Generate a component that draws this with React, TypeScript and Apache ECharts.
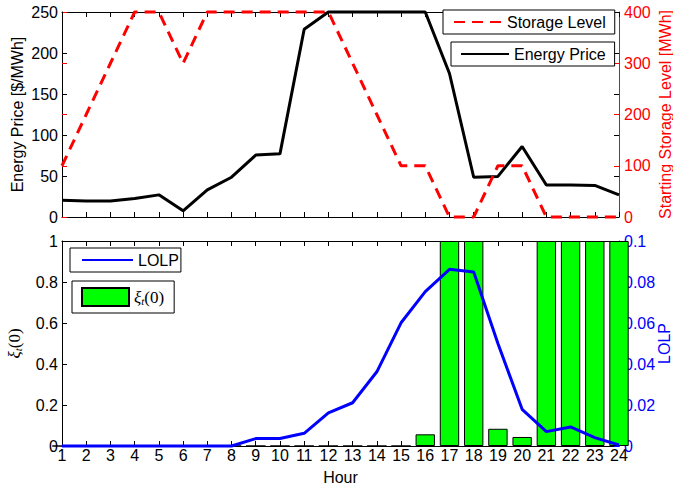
import React, { useEffect, useRef } from "react";
import * as echarts from "echarts";

const hours = [1, 2, 3, 4, 5, 6, 7, 8, 9, 10, 11, 12, 13, 14, 15, 16, 17, 18, 19, 20, 21, 22, 23, 24];
const energyPrice = [20.5, 19.5, 19.5, 22.5, 27, 7.5, 33, 48.5, 75.5, 77, 229, 250, 250, 250, 250, 250, 175, 48.5, 49.5, 86, 39, 39, 38.5, 27];
const storageLevel = [100, 200, 300, 400, 400, 300, 400, 400, 400, 400, 400, 400, 300, 200, 100, 100, 0, 0, 100, 100, 0, 0, 0, 0];
const xi = [0, 0, 0, 0, 0, 0, 0, 0, 0, 0, 0, 0, 0, 0, 0, 0.057, 1, 1, 0.084, 0.044, 1, 1, 1, 1];
const lolp = [0, 0, 0, 0, 0, 0, 0, 0, 0.0036, 0.0037, 0.0062, 0.0162, 0.0211, 0.0362, 0.0601, 0.0753, 0.0862, 0.0849, 0.0500, 0.0179, 0.0070, 0.0093, 0.0041, 0.0005];

const FONT = "'Liberation Sans', Arial, Helvetica, sans-serif";
const SERIF = "'Liberation Serif', 'DejaVu Serif', serif";
const RED = "#FF0000";
const BLUE = "#0000FF";
const GREEN = "#00FF00";

const xiRich = {
  a: { fontFamily: SERIF, fontStyle: "italic", fontSize: 17, color: "#000" },
  b: { fontFamily: SERIF, fontStyle: "italic", fontSize: 11, color: "#000", verticalAlign: "bottom", padding: [7, 0, 0, 0] },
  c: { fontFamily: SERIF, fontSize: 17, color: "#000" },
};

function xAxisBase(gridIndex: number, position: string, showLabel: boolean) {
  return {
    type: "value",
    gridIndex,
    position,
    min: 1,
    max: 24,
    interval: 1,
    splitLine: { show: false },
    axisLine: { show: true, onZero: false, lineStyle: { color: "#000", width: 1 } },
    axisTick: { show: true, inside: true, length: 5, lineStyle: { color: "#000" } },
    axisLabel: { show: showLabel, fontSize: 16, fontFamily: FONT, color: "#000", margin: 1 },
  };
}

function yAxisBase(gridIndex: number, position: string, min: number, max: number, interval: number, color: string, showLabel: boolean, showLine: boolean) {
  return {
    type: "value",
    gridIndex,
    position,
    min,
    max,
    interval,
    splitLine: { show: false },
    axisLine: { show: showLine, lineStyle: { color, width: 1 } },
    axisTick: { show: true, inside: true, length: 5, lineStyle: { color } },
    axisLabel: { show: showLabel, fontSize: 16, fontFamily: FONT, color, margin: position === "left" ? 4 : 5 },
  };
}

const lineLegendBase = {
  borderColor: "#000",
  borderWidth: 1,
  backgroundColor: "#fff",
  itemHeight: 14,
  selectedMode: false,
  itemStyle: { opacity: 0 },
  textStyle: { fontSize: 16, fontFamily: FONT, color: "#000" },
};

export default function App() {
  const ref = useRef<HTMLDivElement>(null);

  useEffect(() => {
    if (!ref.current) return;
    const chart = echarts.init(ref.current, undefined, { renderer: "svg" });

    const option = {
      animation: false,
      backgroundColor: "#fff",
      textStyle: { fontFamily: FONT },
      grid: [
        { left: 62, right: 54, top: 12, height: 205, containLabel: false, outerBoundsMode: "none" },
        { left: 62, right: 54, top: 241, height: 205, containLabel: false, outerBoundsMode: "none" },
      ],
      xAxis: [
        xAxisBase(0, "bottom", false),
        xAxisBase(0, "top", false),
        {
          ...xAxisBase(1, "bottom", true),
          name: "Hour",
          nameLocation: "middle",
          nameGap: 23,
          nameMoveOverlap: false,
          nameTextStyle: { fontSize: 16, fontFamily: FONT, color: "#000" },
        },
        xAxisBase(1, "top", false),
      ],
      yAxis: [
        {
          ...yAxisBase(0, "left", 0, 250, 50, "#000", true, true),
          name: "Energy Price [$/MWh]",
          nameLocation: "middle",
          nameGap: 37,
          nameRotate: 90,
          nameMoveOverlap: false,
          nameTextStyle: { fontSize: 16, fontFamily: FONT, color: "#000" },
        },
        {
          ...yAxisBase(0, "right", 0, 400, 100, RED, true, true),
          name: "Starting Storage Level [MWh]",
          nameLocation: "middle",
          nameGap: 38,
          nameRotate: 90,
          nameMoveOverlap: false,
          nameTextStyle: { fontSize: 16, fontFamily: FONT, color: RED },
        },
        yAxisBase(0, "right", 0, 250, 50, "#000", false, false),
        yAxisBase(0, "left", 0, 400, 100, RED, false, false),
        {
          ...yAxisBase(1, "left", 0, 1, 0.2, "#000", true, true),
          name: "{a|ξ}{b|t}{c|(0)}",
          nameLocation: "middle",
          nameGap: 39,
          nameRotate: 90,
          nameMoveOverlap: false,
          nameTextStyle: { rich: xiRich },
        },
        {
          ...yAxisBase(1, "right", 0, 0.1, 0.02, BLUE, true, true),
          name: "LOLP",
          nameLocation: "middle",
          nameGap: 37,
          nameRotate: 90,
          nameMoveOverlap: false,
          nameTextStyle: { fontSize: 16, fontFamily: FONT, color: BLUE },
        },
      ],
      legend: [
        {
          ...lineLegendBase,
          data: ["Storage Level"],
          left: 443,
          top: 10,
          padding: [4, 9, 4, 10],
          itemWidth: 48,
        },
        {
          ...lineLegendBase,
          data: ["Energy Price"],
          left: 451,
          top: 42,
          padding: [4, 9, 4, 9],
          itemWidth: 48,
        },
        {
          ...lineLegendBase,
          data: ["LOLP"],
          left: 70,
          top: 248,
          padding: [4, 2, 4, 11],
          itemWidth: 51,
        },
        {
          data: ["ξt(0)"],
          left: 72,
          top: 281,
          padding: [6, 10, 6, 9],
          borderColor: "#000",
          borderWidth: 1,
          backgroundColor: "#fff",
          itemWidth: 47,
          itemHeight: 18,
          icon: "rect",
          selectedMode: false,
          formatter: () => "{a|ξ}{b|t}{c|(0)}",
          textStyle: { rich: xiRich },
        },
      ],
      series: [
        {
          name: "ξt(0)",
          type: "bar",
          xAxisIndex: 2,
          yAxisIndex: 4,
          barWidth: "80%",
          data: hours.map((h, i) => [h, xi[i]]),
          itemStyle: { color: GREEN, borderColor: "#000", borderWidth: 1 },
          clip: true,
        },
        {
          name: "LOLP",
          type: "line",
          xAxisIndex: 2,
          yAxisIndex: 5,
          symbol: "none",
          clip: false,
          data: hours.map((h, i) => [h, lolp[i]]),
          itemStyle: { color: BLUE },
          lineStyle: { color: BLUE, width: 3 },
        },
        {
          name: "Energy Price",
          type: "line",
          xAxisIndex: 0,
          yAxisIndex: 0,
          symbol: "none",
          clip: false,
          data: hours.map((h, i) => [h, energyPrice[i]]),
          itemStyle: { color: "#000" },
          lineStyle: { color: "#000", width: 3 },
        },
        {
          name: "Storage Level",
          type: "line",
          xAxisIndex: 0,
          yAxisIndex: 1,
          symbol: "none",
          clip: false,
          data: hours.map((h, i) => [h, storageLevel[i]]),
          itemStyle: { color: RED },
          lineStyle: { color: RED, width: 3, type: [11, 7] },
        },
      ],
    };

    chart.setOption(option as any);
    return () => chart.dispose();
  }, []);

  return (
    <div
      ref={ref}
      style={{ position: "absolute", left: 0, top: 0, width: 673, height: 491, background: "#fff" }}
    />
  );
}
